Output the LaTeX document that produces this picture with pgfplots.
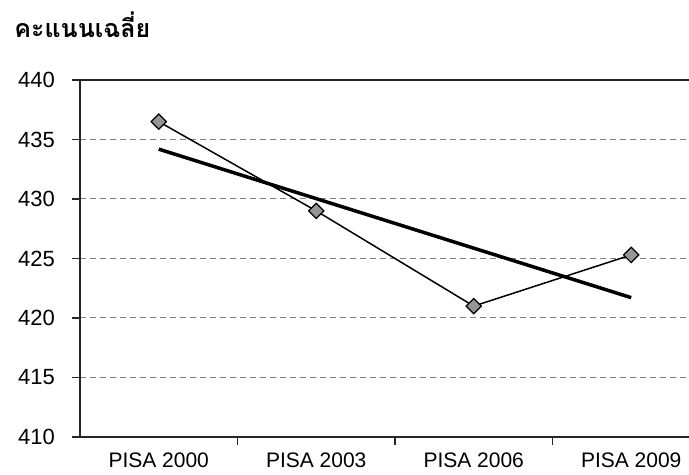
\documentclass[border=0pt]{standalone}
\usepackage{pgfplots}
\pgfplotsset{compat=1.18}
\usepackage{fontspec}
\setmainfont{Liberation Sans}
\newfontfamily\thaifont[Script=Thai]{Loma}
\definecolor{gridgray}{RGB}{128,128,128}
\definecolor{markgray}{RGB}{150,150,150}

\begin{document}
\begin{tikzpicture}
  \useasboundingbox (0,0) rectangle (344.5pt,237.5pt);
  \node[anchor=base west, font=\thaifont\bfseries\fontsize{12.5}{14}\selectfont, inner sep=0pt]
    at (7pt,218.5pt) {คะแนนเฉลี่ย};
  \begin{axis}[
    at={(40pt,19pt)}, anchor=south west,
    scale only axis,
    width=304.5pt, height=178.5pt,
    xmin=-0.5, xmax=3.367,
    ymin=410, ymax=440,
    ytick={410,415,...,440},
    axis y line*=left,
    axis line style={draw=black!85, line width=0.75pt},
    tick align=outside,
    ytick pos=left,
    xtick pos=bottom,
    major tick length=4pt,
    tick style={draw=black!85, line width=0.6pt},
    xtick={0.5,1.5,2.5},
    xticklabels={},
    extra x ticks={0,1,2,3},
    extra x tick labels={PISA 2000,PISA 2003,PISA 2006,PISA 2009},
    extra x tick style={major tick length=0pt, grid=none,
      tick label style={yshift=-6.5pt}},
    x tick label style={font=\fontsize{10.5}{12}\selectfont, inner sep=1pt},
    y tick label style={font=\fontsize{11}{13}\selectfont, xshift=-5pt},
    /pgf/number format/assume math mode=true,
    ymajorgrids=true,
    grid style={draw=gridgray, line width=0.5pt, dash pattern=on 3pt off 2pt},
    clip=false,
  ]
    \addplot[black, line width=0.75pt, mark=square*,
      mark size=2.7pt, mark options={rotate=45, fill=markgray, draw=black, line width=0.6pt}]
      coordinates {(0,436.5) (1,429.0) (2,421.0) (3,425.3)};
    \addplot[black, line width=1.75pt, no marks]
      coordinates {(0,434.19) (3,421.71)};
  \end{axis}
\end{tikzpicture}
\end{document}
